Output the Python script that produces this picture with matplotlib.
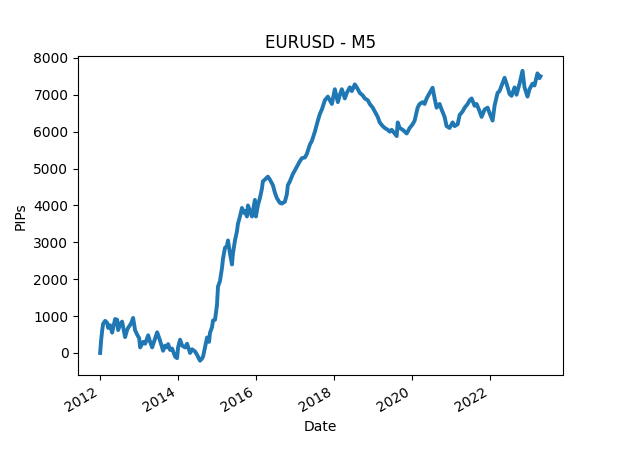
import matplotlib
matplotlib.use("Agg")
import matplotlib.pyplot as plt
import numpy as np
import pandas as pd

# decimal-year dates
years = [2012.000, 2012.026, 2012.051, 2012.077, 2012.128, 2012.179, 2012.205, 2012.256,
         2012.308, 2012.385, 2012.436, 2012.462, 2012.513, 2012.564, 2012.641, 2012.692,
         2012.718, 2012.795, 2012.846, 2012.897, 2012.949, 2013.000, 2013.026, 2013.103,
         2013.154, 2013.231, 2013.282, 2013.333, 2013.410, 2013.462, 2013.538, 2013.590,
         2013.615, 2013.667, 2013.718, 2013.744, 2013.795, 2013.846, 2013.923, 2013.974,
         2014.000, 2014.051, 2014.103, 2014.179, 2014.231, 2014.308, 2014.359, 2014.436,
         2014.487, 2014.564, 2014.615, 2014.641, 2014.692, 2014.744, 2014.795, 2014.821,
         2014.872, 2014.897, 2014.949, 2015.000, 2015.026, 2015.077, 2015.128, 2015.154,
         2015.205, 2015.256, 2015.282, 2015.333, 2015.385, 2015.410, 2015.462, 2015.513,
         2015.538, 2015.590, 2015.641, 2015.692, 2015.718, 2015.769, 2015.795, 2015.846,
         2015.897, 2015.974, 2016.000, 2016.051, 2016.103, 2016.154, 2016.179, 2016.231,
         2016.308, 2016.359, 2016.436, 2016.487, 2016.538, 2016.615, 2016.667, 2016.744,
         2016.795, 2016.821, 2016.872, 2016.949, 2017.000, 2017.051, 2017.128, 2017.179,
         2017.256, 2017.308, 2017.385, 2017.436, 2017.513, 2017.590, 2017.641, 2017.692,
         2017.769, 2017.846, 2017.897, 2017.949, 2018.026, 2018.103, 2018.154, 2018.205,
         2018.282, 2018.333, 2018.410, 2018.462, 2018.538, 2018.590, 2018.667, 2018.744,
         2018.795, 2018.872, 2018.923, 2019.000, 2019.051, 2019.128, 2019.179, 2019.256,
         2019.308, 2019.385, 2019.436, 2019.487, 2019.564, 2019.615, 2019.641, 2019.692,
         2019.769, 2019.821, 2019.872, 2019.949, 2020.026, 2020.077, 2020.154, 2020.205,
         2020.282, 2020.333, 2020.385, 2020.462, 2020.538, 2020.590, 2020.641, 2020.718,
         2020.769, 2020.846, 2020.897, 2020.974, 2021.051, 2021.103, 2021.179, 2021.231,
         2021.308, 2021.359, 2021.436, 2021.487, 2021.538, 2021.615, 2021.667, 2021.744,
         2021.795, 2021.872, 2021.949, 2022.000, 2022.077, 2022.128, 2022.205, 2022.256,
         2022.333, 2022.385, 2022.436, 2022.513, 2022.564, 2022.641, 2022.692, 2022.769,
         2022.846, 2022.897, 2022.974, 2023.026, 2023.103, 2023.154, 2023.231, 2023.282,
         2023.308]

pips = [0, 350, 600, 790, 870, 820, 680, 750,
        550, 920, 900, 620, 780, 850, 430, 620,
        680, 800, 950, 620, 500, 400, 150, 300,
        250, 480, 300, 150, 400, 560, 330, 150,
        60, 200, 150, 240, 80, 120, -100, -140,
        150, 360, 200, 150, 250, 0, 100, 40,
        -50, -210, -150, -100, 150, 420, 300, 550,
        700, 880, 900, 1300, 1800, 1950, 2300, 2550,
        2850, 2900, 3050, 2700, 2400, 2700, 3050, 3300,
        3500, 3700, 3930, 3800, 3850, 3700, 4000, 3850,
        3700, 4150, 3700, 4000, 4200, 4450, 4650, 4700,
        4780, 4700, 4550, 4350, 4200, 4070, 4050, 4100,
        4300, 4550, 4650, 4850, 4950, 5050, 5200, 5280,
        5300, 5400, 5650, 5750, 6000, 6300, 6480, 6600,
        6850, 6950, 6850, 6750, 7150, 6800, 7000, 7150,
        6900, 7050, 7200, 7100, 7280, 7200, 7050, 6980,
        6900, 6850, 6750, 6650, 6550, 6400, 6250, 6150,
        6100, 6050, 6000, 6050, 5950, 5880, 6250, 6100,
        6050, 6000, 5950, 6100, 6200, 6300, 6650, 6750,
        6800, 6750, 6900, 7050, 7190, 6900, 6650, 6750,
        6600, 6400, 6150, 6100, 6250, 6150, 6200, 6450,
        6550, 6650, 6750, 6850, 6900, 6700, 6750, 6550,
        6400, 6600, 6650, 6500, 6300, 6700, 7050, 7100,
        7320, 7460, 7300, 7020, 6970, 7200, 7000, 7300,
        7650, 7200, 6950, 7150, 7300, 7250, 7580, 7450,
        7500]

yr = np.array(years)
whole = np.floor(yr).astype(int)
dates = [pd.Timestamp(year=int(w), month=1, day=1) + pd.Timedelta(days=float((f - w) * 365.25))
         for w, f in zip(whole, yr)]

fig, ax = plt.subplots(figsize=(6.25, 4.69), dpi=100)
ax.plot(dates, pips, color="#1f77b4", linewidth=2.8)
ax.set_title("EURUSD - M5")
ax.set_xlabel("Date")
ax.set_ylabel("PIPs")
fig.autofmt_xdate()
fig.savefig("out.png", dpi=100)
